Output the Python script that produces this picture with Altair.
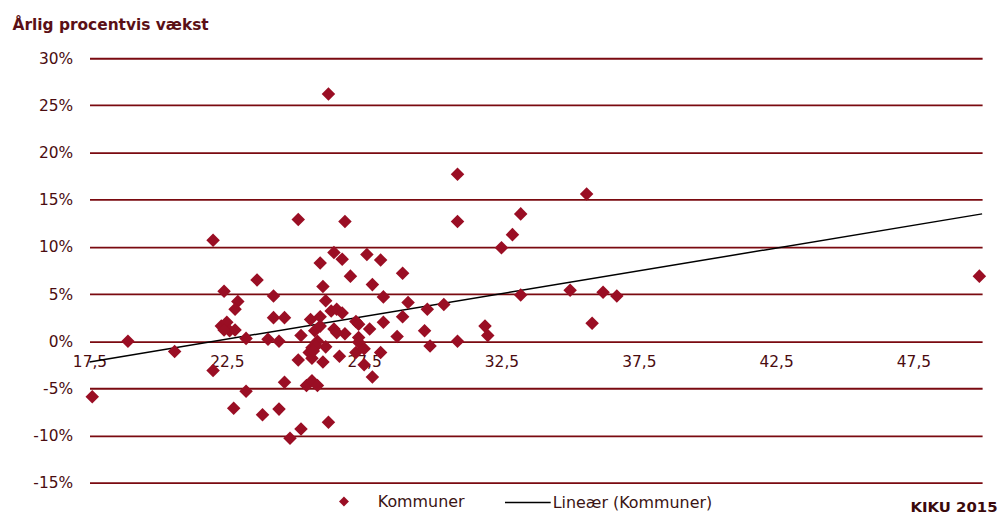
import altair as alt
import pandas as pd

# Scatter data: x = indicator, y = annual growth in percent
kommune_x = [17.6, 18.9, 20.6, 22.0, 22.0, 22.4, 22.3, 22.5, 22.6, 22.8,
             22.4, 22.9, 22.8, 23.2, 23.2, 22.75, 23.6, 23.8, 24.0, 24.2,
             24.2, 24.4, 24.4, 24.6, 24.6, 24.8, 25.1, 25.1, 25.2, 25.2,
             25.4, 25.5, 25.55, 25.6, 25.6, 25.7, 25.8, 25.8, 25.9, 25.9,
             25.9, 26.0, 26.0, 26.1, 26.1, 26.2, 26.2, 26.3, 26.4, 26.5,
             26.4, 26.6, 26.7, 26.7, 26.8, 26.8, 27.0, 27.2, 27.3, 27.3,
             27.3, 27.2, 27.5, 27.5, 27.6, 27.7, 27.8, 27.8, 28.1, 28.1,
             28.2, 28.2, 28.7, 28.9, 28.9, 29.1, 29.7, 29.8, 29.9, 30.4,
             30.9, 30.9, 30.9, 31.9, 32.0, 32.5, 32.9, 33.2, 33.2, 35.0,
             35.6, 35.8, 36.2, 36.7, 49.9, 26.5, 25.6, 25.75, 25.65]
kommune_y = [-5.9, 0.0, -1.1, 10.7, -3.1, 5.3, 1.6, 2.0, 1.1, 1.2,
             1.2, 4.2, 3.4, 0.3, -5.3, -7.1, 6.5, -7.8, 0.2, 4.8,
             2.5, 0.0, -7.2, 2.5, -4.35, -10.3, 12.9, -2.0, 0.6, -9.3,
             -4.7, -1.2, 2.3, -4.2, -0.7, 1.1, -4.7, 0.0, 8.3, 2.6,
             1.6, -2.2, 5.8, 4.3, -0.6, 26.2, -8.6, 3.2, 9.4, 3.4,
             1.3, -1.6, 8.7, 3.0, 12.7, 0.8, 6.9, 2.1, 1.8, 0.4,
             -0.1, -1.2, -0.8, -2.5, 9.2, 1.3, 6.0, -3.8, 8.6, -1.2,
             4.7, 2.0, 0.5, 7.2, 2.6, 4.1, 1.1, 3.4, -0.5, 3.9,
             17.7, 12.7, 0.0, 1.6, 0.6, 9.9, 11.3, 13.5, 4.9, 5.4,
             15.6, 1.9, 5.2, 4.8, 6.9, 0.9, -1.8, -0.5, -1.05]

# Linear trend line (Lineær) end points
trend_x = [17.5, 50.0]
trend_y = [-2.2, 13.5]

x_ticks = [17.5, 22.5, 27.5, 32.5, 37.5, 42.5, 47.5]
y_ticks = [-15, -10, -5, 0, 5, 10, 15, 20, 25, 30]

pts = pd.DataFrame({"x": kommune_x, "y": kommune_y, "serie": "Kommuner"})
trend = pd.DataFrame({"x": trend_x, "y": trend_y, "serie": "Lineær (Kommuner)"})

FONT = "DejaVu Sans"
LABEL_COLOR = "#4a0c10"
GRID_COLOR = "#7a0a10"
POINT_COLOR = "#9a0e24"

x_scale = alt.Scale(domain=[17.5, 50.0], nice=False, zero=False)
y_scale = alt.Scale(domain=[-15, 30], nice=False, zero=False)

x_axis = alt.Axis(
    values=x_ticks, grid=False, domain=False, ticks=False,
    offset=-142, labelPadding=13, labelFlush=False,
    labelExpr="replace(format(datum.value, '.1f'), '.', ',')",
    labelFont=FONT, labelFontSize=15.5, labelColor=LABEL_COLOR,
    title="KIKU 2015", titleFont=FONT, titleFontSize=15, titleFontWeight="bold",
    titleColor="#3a0a0c", titleAlign="right", titleAnchor="end",
    titleX=913, titleY=171, titleBaseline="alphabetic",
)
y_axis = alt.Axis(
    values=y_ticks, grid=True, gridColor=GRID_COLOR, gridWidth=1.8,
    domain=False, ticks=False, labelPadding=17,
    labelExpr="datum.value + '%'",
    labelFont=FONT, labelFontSize=15.5, labelColor=LABEL_COLOR,
    title="Årlig procentvis vækst", titleFont=FONT, titleFontSize=15.5,
    titleFontWeight="bold", titleColor="#5a1016", titleAngle=0,
    titleAlign="left", titleBaseline="alphabetic", titleX=-78, titleY=-29,
)

points = alt.Chart(pts).mark_point(
    shape="diamond", filled=True, size=185, color=POINT_COLOR, opacity=1
).encode(
    x=alt.X("x:Q", scale=x_scale, axis=x_axis),
    y=alt.Y("y:Q", scale=y_scale, axis=y_axis),
    shape=alt.Shape(
        "serie:N",
        scale=alt.Scale(domain=["Kommuner"], range=["diamond"]),
        legend=alt.Legend(
            orient="none", legendX=248, legendY=438, title=None, padding=0,
            symbolSize=100, symbolFillColor=POINT_COLOR,
            symbolStrokeColor=POINT_COLOR, symbolStrokeWidth=0,
            labelOffset=26, labelFont=FONT, labelFontSize=16,
            labelColor="#3a1414", labelLimit=300,
        ),
    ),
)

line = alt.Chart(trend).mark_line(strokeWidth=1.5).encode(
    x=alt.X("x:Q", scale=x_scale),
    y=alt.Y("y:Q", scale=y_scale),
    color=alt.Color(
        "serie:N",
        scale=alt.Scale(domain=["Lineær (Kommuner)"], range=["#000000"]),
        legend=alt.Legend(
            orient="none", legendX=417, legendY=423, title=None, padding=0,
            symbolType="stroke", symbolSize=2116, symbolStrokeWidth=1.5,
            symbolStrokeColor="#000000",
            labelOffset=1, labelFont=FONT, labelFontSize=16,
            labelColor="#3a1414", labelLimit=300,
        ),
    ),
)

chart = alt.layer(line, points).properties(
    width=898, height=427,
    autosize=alt.AutoSizeParams(type="none"),
    padding={"left": 82, "top": 49, "right": 17, "bottom": 40},
    background="white",
).configure_view(stroke=None)

chart.save("out.html", embed_options={"renderer": "svg", "actions": False})
